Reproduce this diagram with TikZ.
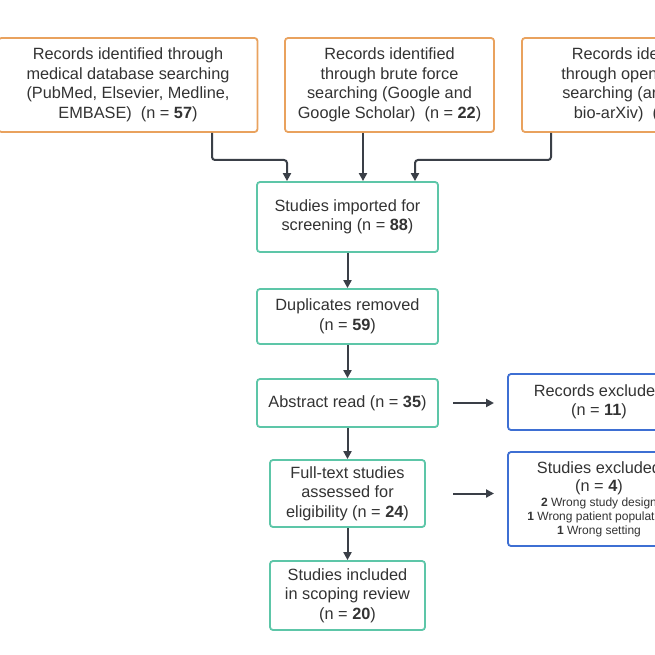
\documentclass[tikz,border=0pt]{standalone}
\usepackage{fontspec}
\setmainfont{Liberation Sans}
\usetikzlibrary{positioning,arrows.meta}
\definecolor{srcorange}{HTML}{E9A25E}
\definecolor{stepteal}{HTML}{5DC6A8}
\definecolor{exblue}{HTML}{3E6FD3}
\definecolor{arrowgray}{HTML}{3A3F47}

\begin{document}
\begin{tikzpicture}[x=1pt,y=-1pt,
  box/.style={draw,line width=1.8pt,rounded corners=3pt,align=center,inner sep=1pt,
    font=\fontsize{16.3}{19.5}\selectfont,text=black!80},
  src/.style={box,draw=srcorange,minimum height=94pt},
  stage/.style={box,draw=stepteal},
  excl/.style={box,draw=exblue},
  flow/.style={draw=arrowgray,line width=2pt,-{Triangle[length=8pt,width=8pt]}}]
\useasboundingbox (0,0) rectangle (655,655);
\clip (0,0) rectangle (655,655);
\fill[white] (0,0) rectangle (655,655);

% sources
\node[src,minimum width=259pt] (medical) at (128,85) {Records identified through\\medical database searching\\(PubMed, Elsevier, Medline,\\EMBASE)\ \ (n = \textbf{57})};
\node[src,minimum width=209pt] (brute) at (389.5,85) {Records identified\\through brute force\\searching (Google and\\Google Scholar)\ \ (n = \textbf{22})};
\node[src,minimum width=230pt] (open) at (637,85) {Records identified\\through open access\\searching (arXiv and\\bio-arXiv)\ \ (n = \textbf{9})};

% main flow
\node[stage,minimum width=181pt,minimum height=70pt] (imported) at (347.5,217) {Studies imported for\\screening (n = \textbf{88})};
\node[stage,minimum width=181pt,minimum height=55pt] (dupl) at (347.5,316.5) {Duplicates removed\\(n = \textbf{59})};
\node[stage,minimum width=181pt,minimum height=48pt] (abstract) at (347.5,403) {Abstract read (n = \textbf{35})};
\node[stage,minimum width=155pt,minimum height=67pt] (fulltext) at (347.5,493.5) {Full-text studies\\assessed for\\eligibility (n = \textbf{24})};
\node[stage,minimum width=155pt,minimum height=69pt] (included) at (347.5,595.5) {Studies included\\in scoping review\\(n = \textbf{20})};

% exclusions
\node[excl,minimum width=182pt,minimum height=56pt] (recex) at (599,402) {Records excluded\\(n = \textbf{11})};
\node[excl,minimum width=182pt,minimum height=94pt,font=\fontsize{16.3}{18}\selectfont] (studex) at (599,499)
  {Studies excluded\\(n = \textbf{4})\\[-3pt]{\fontsize{12}{13}\selectfont\textbf{2} Wrong study design}\\[-4pt]{\fontsize{12}{13}\selectfont\textbf{1} Wrong patient population}\\[-4pt]{\fontsize{12}{13}\selectfont\textbf{1} Wrong setting}};

\coordinate (medin) at (287,0);
\coordinate (openin) at (415,0);
\coordinate (sidefrom) at (453,0);
\coordinate (sideto) at (494,0);
\draw[flow,rounded corners=3pt] (212,0 |- medical.south) -- (212,160) -- (287,160) -- (medin |- imported.north);
\draw[flow] (brute.south -| 363,0) -- (imported.north -| 363,0);
\draw[flow,rounded corners=3pt] (551,0 |- open.south) -- (551,160) -- (415,160) -- (openin |- imported.north);
\draw[flow] (imported) -- (dupl);
\draw[flow] (dupl) -- (abstract);
\draw[flow] (abstract) -- (fulltext);
\draw[flow] (fulltext) -- (included);
\draw[flow] (sidefrom |- abstract.east) -- (sideto |- abstract.east);
\draw[flow] (sidefrom |- fulltext.east) -- (sideto |- fulltext.east);
\end{tikzpicture}
\end{document}
